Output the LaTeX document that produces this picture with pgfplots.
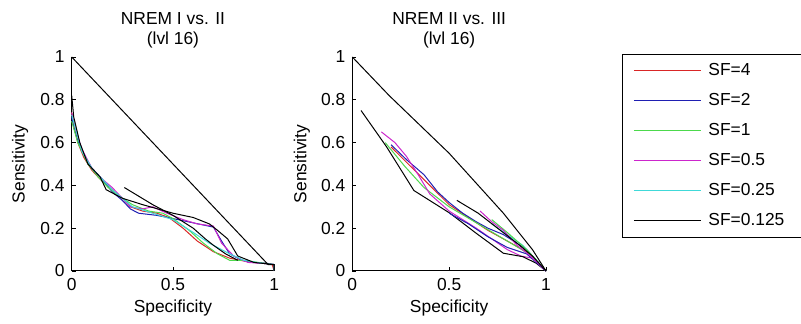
\documentclass[border=0pt]{standalone}
\usepackage{pgfplots}
\pgfplotsset{compat=1.18}
\usepackage{fontspec}
\setmainfont{Liberation Sans}
\definecolor{cR}{rgb}{0.85,0.15,0.15}
\definecolor{cB}{rgb}{0.12,0.12,0.7}
\definecolor{cG}{rgb}{0.3,0.85,0.3}
\definecolor{cM}{rgb}{0.8,0.15,0.8}
\definecolor{cC}{rgb}{0.25,0.85,0.85}
\pgfplotsset{
  rocax/.style={
    scale only axis, height=107pt,
    xmin=0,xmax=1,ymin=0,ymax=1,
    axis lines*=left, axis line style={-, line width=0.5pt},
    tick align=inside, major tick length=2pt, tick style={line width=0.4pt, black},
    xtick={0,0.5,1}, ytick={0,0.2,0.4,0.6,0.8,1},
    /pgf/number format/assume math mode=true,
    ticklabel style={font=\fontsize{8.7}{10}\selectfont},
    label style={font=\fontsize{8.7}{10}\selectfont},
    title style={font=\fontsize{8.7}{10}\selectfont, align=center, at={(axis description cs:0.5,1.07)}, anchor=center},
    xlabel={Specificity}, ylabel={Sensitivity},
    xlabel style={at={(axis description cs:0.5,-0.173)}, anchor=center},
    clip=false,
    every axis plot/.append style={line width=0.5pt, no marks},
  }
}
\begin{document}
\begin{tikzpicture}[x=1pt,y=1pt]
\useasboundingbox (0,0) rectangle (400.5,162);
% Plot 1
\begin{axis}[rocax, at={(35.85pt,26.5pt)}, anchor=south west, width=101.25pt,
  ylabel style={at={(axis description cs:-0.255,0.5)}, anchor=center},
  title={NREM I vs. II\\(lvl 16)}]
\addplot[cR] coordinates {(0,0.74)(0.01,0.68)(0.03,0.6)(0.06,0.53)(0.1,0.47)(0.15,0.42)(0.2,0.38)(0.25,0.34)(0.29,0.3)(0.35,0.28)(0.42,0.27)(0.48,0.25)(0.55,0.2)(0.62,0.14)(0.7,0.09)(0.78,0.06)(0.86,0.045)(0.95,0.035)(0.99,0.03)(1,0)};
\addplot[cB] coordinates {(0,0.72)(0.01,0.67)(0.03,0.61)(0.06,0.54)(0.1,0.48)(0.15,0.43)(0.2,0.37)(0.25,0.33)(0.29,0.29)(0.33,0.27)(0.42,0.26)(0.5,0.245)(0.6,0.225)(0.7,0.205)(0.74,0.14)(0.78,0.08)(0.84,0.05)(0.9,0.04)(0.97,0.035)(1,0.03)(1,0)};
\addplot[cG] coordinates {(0,0.7)(0.03,0.6)(0.08,0.5)(0.13,0.44)(0.18,0.39)(0.25,0.34)(0.3,0.31)(0.38,0.28)(0.45,0.27)(0.5,0.245)(0.58,0.19)(0.65,0.13)(0.72,0.08)(0.78,0.05)(0.85,0.05)(0.92,0.04)(1,0.03)(1,0)};
\addplot[cM] coordinates {(0,0.74)(0.02,0.66)(0.05,0.57)(0.1,0.48)(0.15,0.43)(0.2,0.39)(0.25,0.34)(0.29,0.3)(0.35,0.29)(0.4,0.3)(0.47,0.27)(0.55,0.24)(0.62,0.22)(0.7,0.21)(0.74,0.13)(0.8,0.07)(0.87,0.04)(0.95,0.035)(1,0.03)(1,0)};
\addplot[cC] coordinates {(0,0.73)(0.05,0.56)(0.1,0.48)(0.2,0.38)(0.3,0.3)(0.4,0.27)(0.5,0.24)(0.6,0.18)(0.68,0.13)(0.74,0.1)(0.78,0.08)(0.85,0.05)(0.95,0.035)(1,0.03)(1,0)};
\addplot[black] coordinates {(0,0.82)(0.01,0.72)(0.04,0.6)(0.08,0.5)(0.14,0.44)(0.17,0.38)(0.25,0.34)(0.35,0.31)(0.5,0.27)(0.6,0.25)(0.68,0.22)(0.72,0.19)(0.77,0.15)(0.82,0.07)(0.9,0.04)(1,0.03)(1,0)};
\addplot[black] coordinates {(0.26,0.39)(0.4,0.31)(0.5,0.26)(0.6,0.2)(0.66,0.15)(0.7,0.12)(0.76,0.08)(0.82,0.05)};
\addplot[black] coordinates {(0,1)(0.97,0.03)(1,0.03)(1,0)};
\end{axis}
% Plot 2
\begin{axis}[rocax, at={(176.15pt,26.5pt)}, anchor=south west, width=96.85pt,
  ylabel style={at={(axis description cs:-0.26,0.5)}, anchor=center},
  title={NREM II vs. III\\(lvl 16)},
  legend style={at={(axis description cs:1.392,1.014)}, anchor=north west,
    draw=black, line width=0.5pt, inner xsep=5.5pt, inner ysep=4pt,
    font=\fontsize{8.7}{10}\selectfont, column sep=3.5pt, row sep=6.7pt,
    nodes={inner sep=0pt, text height=6.5pt, text depth=1.8pt, text width=41pt}},
  legend cell align=left,
  legend image code/.code={\draw[#1] (0pt,0pt) -- (33.5pt,0pt);}]
\addplot[cR] coordinates {(0.2,0.58)(0.3,0.49)(0.4,0.4)(0.5,0.31)(0.6,0.25)(0.7,0.19)(0.8,0.14)(0.9,0.09)(1,0)};
\addlegendentry{SF=4}
\addplot[cB] coordinates {(0.2,0.59)(0.28,0.52)(0.37,0.45)(0.44,0.37)(0.5,0.32)(0.57,0.27)(0.64,0.23)(0.7,0.2)(0.78,0.17)(0.85,0.13)(0.9,0.1)(0.95,0.05)(1,0)};
\addlegendentry{SF=2}
\addplot[cG] coordinates {(0.17,0.6)(0.27,0.49)(0.37,0.39)(0.5,0.3)(0.65,0.22)(0.8,0.14)(0.93,0.07)(1,0)};
\addlegendentry{SF=1}
\addplot[cM] coordinates {(0.15,0.65)(0.22,0.6)(0.28,0.535)(0.34,0.45)(0.4,0.36)(0.5,0.28)(0.57,0.24)(0.64,0.2)(0.72,0.15)(0.8,0.1)(0.87,0.07)(0.93,0.06)(1,0)};
\addlegendentry{SF=0.5}
\addplot[cC] coordinates {(0.72,0.22)(0.8,0.17)(0.88,0.12)(0.95,0.05)(1,0)};
\addlegendentry{SF=0.25}
\addplot[black] coordinates {(0.045,0.75)(0.177,0.58)(0.318,0.376)(0.504,0.27)(0.64,0.176)(0.78,0.083)(0.88,0.067)(0.95,0.036)(1,0)};
\addlegendentry{SF=0.125}
\addplot[cG, forget plot] coordinates {(0.72,0.24)(0.8,0.18)(0.9,0.1)(0.96,0.04)(1,0)};
\addplot[cB, forget plot] coordinates {(0.5,0.27)(0.6,0.22)(0.7,0.16)(0.8,0.11)(0.9,0.08)(1,0)};
\addplot[cM, forget plot] coordinates {(0.66,0.28)(0.72,0.23)(0.78,0.19)(0.85,0.12)(0.92,0.07)(1,0)};
\addplot[black, forget plot] coordinates {(0.54,0.33)(0.65,0.27)(0.75,0.2)(0.85,0.13)(0.93,0.07)(0.97,0.03)(1,0)};
\addplot[black, forget plot] coordinates {(0,1)(0.19,0.82)(0.5,0.55)(0.78,0.27)(0.93,0.1)(1,0)};
\end{axis}
\end{tikzpicture}
\end{document}
